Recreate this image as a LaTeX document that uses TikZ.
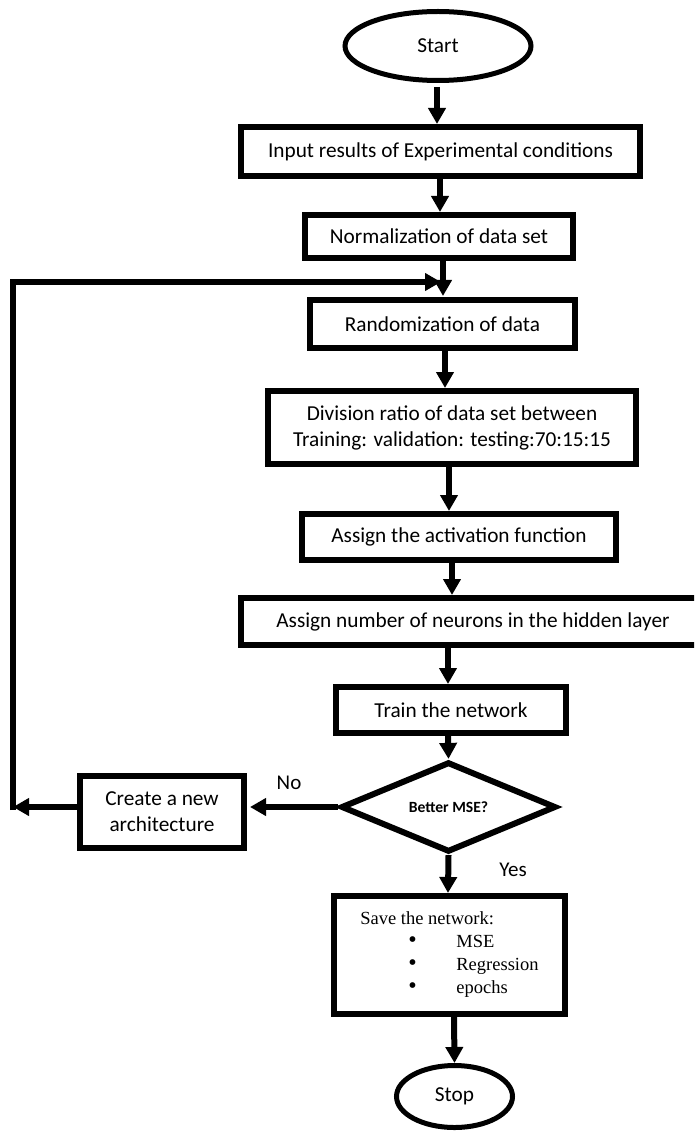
\documentclass[tikz,border=0pt]{standalone}
\usepackage{fontspec}
\usepackage{graphicx}
\setmainfont{Carlito}
\newfontfamily\tnr{Liberation Serif}
\usetikzlibrary{arrows.meta,shapes.geometric}
\newcommand{\bigbul}{\makebox[48pt][l]{\smash{\scalebox{1.3}{\textbullet}}}}
\begin{document}
\begin{tikzpicture}[x=1pt,y=-1pt,
  box/.style={draw,line width=6pt,rectangle,inner sep=0pt,align=center,font=\fontsize{21.3}{26}\selectfont},
  oval/.style={draw,line width=5pt,ellipse,inner sep=0pt,font=\fontsize{21.3}{26}\selectfont},
  arr/.style={line width=6pt,-{Triangle[length=16pt,width=17pt]}},
  lbl/.style={font=\fontsize{21}{26}\selectfont}]
\useasboundingbox (0,0) rectangle (694,1131);
\clip (0,0) rectangle (694,1131);
\node[oval,minimum width=186pt,minimum height=69pt] (start) at (438,46) {Start};
\node[box,minimum width=399pt,minimum height=49pt] (input) at (440.5,151.5) {Input results of Experimental conditions};
\node[box,minimum width=268pt,minimum height=43pt] (norm) at (439,236.5) {Normalization of data set};
\node[box,minimum width=265pt,minimum height=48pt] (rand) at (442.5,324) {Randomization of data};
\node[box,minimum width=368pt,minimum height=73pt] (div) at (452,427.5) {Division ratio of data set between\\Training: validation: testing:70:15:15};
\node[box,minimum width=314pt,minimum height=46pt] (act) at (459,537) {Assign the activation function};
\node[box,minimum width=464pt,minimum height=47pt] (neur) at (473,621.5) {Assign number of neurons in the hidden layer};
\node[box,minimum width=230pt,minimum height=46pt] (train) at (451,710) {Train the network};
\node[draw,line width=6pt,diamond,inner sep=0pt,minimum width=215pt,minimum height=72pt,font=\fontsize{15.6}{18}\selectfont\bfseries] (dia) at (448.5,807) {Better MSE?};
\node[box,minimum width=164pt,minimum height=72pt] (create) at (162,812) {Create a new\\architecture};
\node[box,minimum width=231pt,minimum height=118pt,align=left,font=\tnr\fontsize{18.5}{23}\selectfont] (save) at (449.5,955)
 {Save the network:\\
  \hspace*{48pt}\bigbul MSE\\
  \hspace*{48pt}\bigbul Regression\\
  \hspace*{48pt}\bigbul epochs};
\node[oval,minimum width=116pt,minimum height=62pt] (stop) at (454.5,1096.5) {Stop};
\node[lbl] (no) at (289,783) {No};
\node[lbl] (yes) at (513,870) {Yes};
\coordinate (c1) at (13,807);
\coordinate (c2) at (13,282);
\coordinate (j) at (441,282);
\draw[arr] ([yshift=-4pt]start.south -| 437,0) -- (437,0 |- input.north);
\draw[arr] (440,0 |- input.south) -- (440,0 |- norm.north);
\draw[arr] (443,0 |- norm.south) -- ([yshift=1pt]443,0 |- rand.north);
\draw[arr] (445,0 |- rand.south) -- (445,0 |- div.north);
\draw[arr] (449,0 |- div.south) -- (449,0 |- act.north);
\draw[arr] (452,0 |- act.south) -- (452,0 |- neur.north);
\draw[arr] (448,0 |- neur.south) -- (448,0 |- train.north);
\draw[arr] (448,0 |- train.south) -- (dia.north);
\draw[arr] (dia.south) -- (448,0 |- save.north);
\draw[arr] (454,0 |- save.south) -- (stop.north);
\draw[arr] (dia.west) -- ([xshift=3pt]dia.west -| create.east);
\draw[arr] (create.west |- dia.west) -- (c1);
\draw[arr] ([yshift=-3pt]c1) -- (c2) -- (j);
\end{tikzpicture}
\end{document}
